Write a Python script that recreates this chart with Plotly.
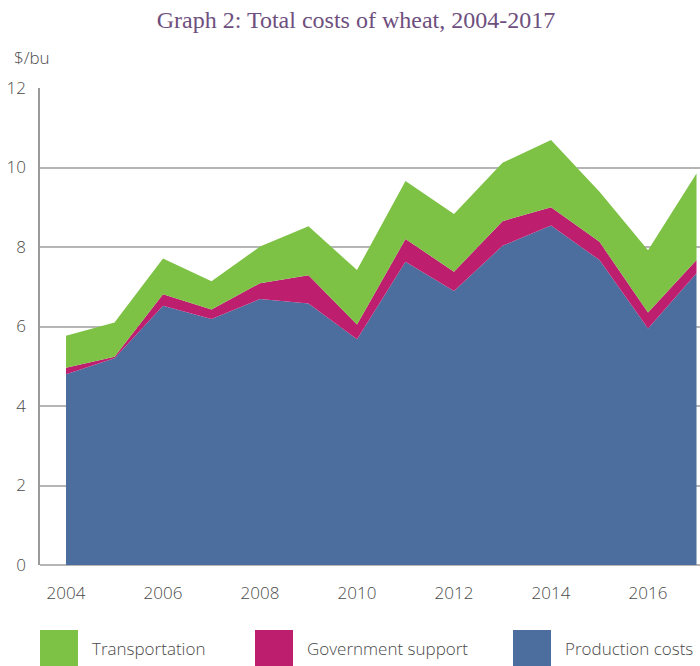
import plotly.graph_objects as go

years = list(range(2004, 2018))
production = [4.80, 5.20, 6.52, 6.19, 6.69, 6.58, 5.68, 7.63, 6.89, 8.03, 8.54, 7.67, 5.95, 7.34]
government = [0.16, 0.04, 0.29, 0.24, 0.40, 0.71, 0.37, 0.57, 0.49, 0.62, 0.46, 0.46, 0.40, 0.33]
transport = [0.81, 0.86, 0.90, 0.71, 0.92, 1.23, 1.37, 1.46, 1.45, 1.47, 1.69, 1.26, 1.57, 2.18]

series_names = ["Production costs", "Government support", "Transportation"]
colors = ["#4C6E9E", "#BE1E6E", "#7DC145"]
x_ticks = [2004, 2006, 2008, 2010, 2012, 2014, 2016]
y_ticks = [0, 2, 4, 6, 8, 10, 12]

FONT = "Open Sans"
TXT = "#4A4A4A"

W, H = 700, 666
L, T, B = 40, 88, 101
PW, PH = W - L, H - T - B

fig = go.Figure()
for name, vals, col in zip(series_names, [production, government, transport], colors):
    fig.add_trace(go.Scatter(
        x=years, y=vals, name=name, mode="lines", stackgroup="one",
        line=dict(width=0, color=col), fillcolor=col, showlegend=False,
        hoverinfo="skip",
    ))

tickfont = dict(family=FONT, size=17, color=TXT, weight=300)

fig.update_layout(
    width=W, height=H,
    margin=dict(l=L, r=0, t=T, b=B),
    plot_bgcolor="white", paper_bgcolor="white",
    font=dict(family=FONT, size=17, color=TXT),
    title=dict(text="Graph 2: Total costs of wheat, 2004-2017",
               x=356 / W, xanchor="center", y=1 - 20 / H, yanchor="middle",
               font=dict(family="Liberation Serif", size=24, color="#6E4F7E")),
    xaxis=dict(range=[2003.464, 2017.072], tickvals=x_ticks, showgrid=False,
               zeroline=False, showline=False, ticks="", ticklabelstandoff=16,
               automargin=False, tickfont=tickfont),
    yaxis=dict(range=[0, 12], tickvals=y_ticks, showgrid=True, gridcolor="#B5B5B5",
               gridwidth=1.5, zeroline=True, zerolinecolor="#B5B5B5", zerolinewidth=1.5,
               showline=True, linecolor="#9A9A9A", linewidth=1.5, ticks="",
               automargin=False, ticklabelstandoff=9, tickfont=tickfont),
)

def px_x(x):
    return (x - L) / PW

def px_y(y):
    return (H - B - y) / PH

fig.add_annotation(text="$/bu", xref="paper", yref="paper", x=px_x(12), y=px_y(57),
                   xanchor="left", yanchor="middle", showarrow=False, font=tickfont)

legend_x = [40, 255, 513]
legend_order = [2, 1, 0]
for lx, idx in zip(legend_x, legend_order):
    fig.add_shape(type="rect", xref="paper", yref="paper",
                  x0=px_x(lx), x1=px_x(lx + 38), y0=px_y(670), y1=px_y(630),
                  fillcolor=colors[idx], line=dict(width=0))
    fig.add_annotation(text=series_names[idx], xref="paper", yref="paper",
                       x=px_x(lx + 50), y=px_y(648),
                       xanchor="left", yanchor="middle", showarrow=False, font=tickfont)

fig.write_html(
    "out.html",
    config={"displayModeBar": False},
    post_script="document.body.style.margin='0';document.body.style.overflow='hidden';",
)
